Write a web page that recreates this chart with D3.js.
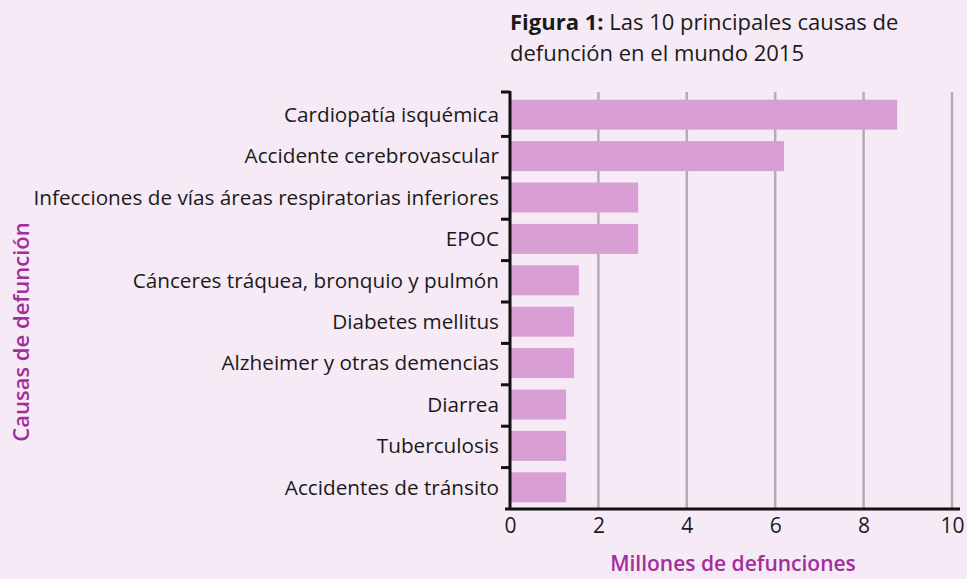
<!DOCTYPE html>
<html>
<head>
<meta charset="utf-8">
<script src="https://cdn.jsdelivr.net/npm/d3@7"></script>
<style>
  html, body { margin: 0; padding: 0; background: #f6eaf6; }
  svg { display: block; font-family: "Open Sans", "Noto Sans", sans-serif; }
</style>
</head>
<body>
<svg id="chart"></svg>
<script>
// categories and values (millions of deaths)
var causas = [
  "Cardiopatía isquémica",
  "Accidente cerebrovascular",
  "Infecciones de vías áreas respiratorias inferiores",
  "EPOC",
  "Cánceres tráquea, bronquio y pulmón",
  "Diabetes mellitus",
  "Alzheimer y otras demencias",
  "Diarrea",
  "Tuberculosis",
  "Accidentes de tránsito"
];
var defunciones = [8.76, 6.2, 2.9, 2.9, 1.56, 1.45, 1.45, 1.27, 1.27, 1.27];
var xTicks = [0, 2, 4, 6, 8, 10];

var width = 967, height = 579;

var svg = d3.select('#chart')
  .attr('width', width)
  .attr('height', height);

svg.append('rect')
  .attr('width', width)
  .attr('height', height)
  .attr('fill', '#f6eaf6');

var data = causas.map(function(c, i) { return { causa: c, valor: defunciones[i] }; });

// scales
var xScale = d3.scaleLinear()
  .domain([0, 10])
  .range([510, 952]);

var yScale = d3.scaleBand()
  .domain(causas)
  .range([95, 509])
  .paddingInner(0.275)
  .paddingOuter(0.1375);

// gridlines
svg.append('g').attr('class', 'x-grid')
  .selectAll('line').data(xTicks.slice(1))
  .enter().append('line')
  .attr('x1', function(d) { return xScale(d); })
  .attr('x2', function(d) { return xScale(d); })
  .attr('y1', 92)
  .attr('y2', 509)
  .attr('stroke', '#b3adb3')
  .attr('stroke-width', 2.5);

// bars
svg.append('g').attr('class', 'data')
  .selectAll('rect').data(data)
  .enter().append('rect')
  .attr('x', xScale(0))
  .attr('y', function(d) { return yScale(d.causa) - 1; })
  .attr('width', function(d) { return xScale(d.valor) - xScale(0); })
  .attr('height', yScale.bandwidth())
  .attr('fill', '#d99fd4');

// y axis: line plus ticks at band boundaries
var yAxisG = svg.append('g').attr('class', 'y-axis');
var step = yScale.step();
var bounds = causas.map(function(c) { return yScale(c) - yScale.paddingInner() * step / 2; });

yAxisG.append('line')
  .attr('x1', xScale(0)).attr('x2', xScale(0))
  .attr('y1', 91).attr('y2', 510)
  .attr('stroke', '#111').attr('stroke-width', 3);

yAxisG.selectAll('line.tick').data(bounds)
  .enter().append('line')
  .attr('class', 'tick')
  .attr('x1', xScale(0) - 9).attr('x2', xScale(0))
  .attr('y1', function(d, i) { return i === 0 ? 92 : d; })
  .attr('y2', function(d, i) { return i === 0 ? 92 : d; })
  .attr('stroke', '#111').attr('stroke-width', 3);

var labels = yAxisG.selectAll('text').data(causas)
  .enter().append('text')
  .attr('x', 499)
  .attr('y', function(d) { return yScale(d) + yScale.bandwidth() / 2 - 1; })
  .attr('dy', '0.35em')
  .attr('text-anchor', 'end')
  .attr('font-size', 20)
  .attr('fill', '#1a1a1a')
  .text(function(d) { return d; });

// fit label font so the longest label spans like the reference (~466px)
var longest = labels.filter(function(d, i) { return i === 2; }).node();
var fs = Math.min(21, 20 * 466 / longest.getComputedTextLength());
labels.attr('font-size', fs);

// x axis
var xAxis = d3.axisBottom(xScale)
  .tickValues(xTicks)
  .tickSize(0)
  .tickPadding(9)
  .tickFormat(d3.format('d'));

var xAxisG = svg.append('g')
  .attr('class', 'x-axis')
  .attr('transform', 'translate(0,509)')
  .call(xAxis);

xAxisG.select('.domain').remove();
xAxisG.append('line')
  .attr('x1', 505).attr('x2', 960)
  .attr('stroke', '#111').attr('stroke-width', 3);
xAxisG.selectAll('.tick text')
  .attr('font-size', 21)
  .attr('font-family', '"Open Sans", sans-serif')
  .attr('fill', '#1a1a1a');

// axis titles
svg.append('text')
  .attr('x', 733)
  .attr('y', 571)
  .attr('text-anchor', 'middle')
  .attr('font-size', 21)
  .attr('font-weight', 600)
  .attr('fill', '#a22e9c')
  .text('Millones de defunciones');

svg.append('text')
  .attr('transform', 'translate(29,332) rotate(-90)')
  .attr('text-anchor', 'middle')
  .attr('font-size', 22)
  .attr('font-weight', 600)
  .attr('fill', '#a22e9c')
  .text('Causas de defunción');

// figure title
var title = svg.append('text')
  .attr('x', 510)
  .attr('y', 30)
  .attr('font-size', 22)
  .attr('fill', '#1a1a1a');
title.append('tspan').attr('font-weight', 'bold').text('Figura 1:');
title.append('tspan').text(' Las 10 principales causas de');
svg.append('text')
  .attr('x', 510)
  .attr('y', 61)
  .attr('font-size', 22)
  .attr('fill', '#1a1a1a')
  .text('defunción en el mundo 2015');
</script>
</body>
</html>
